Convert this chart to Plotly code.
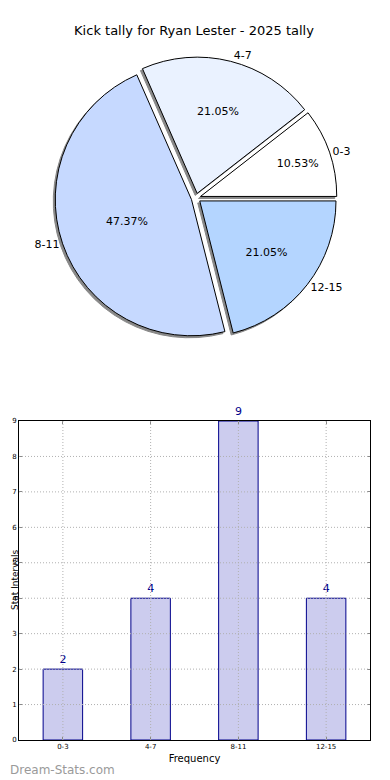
import plotly.graph_objects as go

# ---- data ----
categories = ["0-3", "4-7", "8-11", "12-15"]
counts = [2, 4, 9, 4]
pie_colors = ["#ffffff", "#eaf2ff", "#c6d9ff", "#b4d5ff"]
y_ticks = [0, 1, 2, 3, 4, 5, 6, 7, 8, 9]
title_text = "Kick tally for Ryan Lester - 2025 tally"

# page body has an 8px default margin; size the figure so it fits the window
OFF = 8
W, H = 390 - OFF, 780 - OFF
FONT = "DejaVu Sans"

def px_x(p):
    return (p - OFF) / W

def px_y(p):
    return 1 - (p - OFF) / H

pull = [0.035] * len(counts)
# first slice starts at 3 o'clock and runs counterclockwise
rotation = 90 - 360 * counts[0] / sum(counts)

# pie geometry (reference pixels)
pie_top, pie_bottom = 57, 339
main_dom_y = [px_y(pie_bottom), px_y(pie_top)]
shadow_dom_y = [px_y(pie_bottom + 2), px_y(pie_top + 2)]
main_dom_x = [px_x(8), px_x(384)]
shadow_dom_x = [px_x(8), px_x(380)]

fig = go.Figure()

common = dict(labels=categories, values=counts, sort=False,
              direction="counterclockwise", rotation=rotation, pull=pull,
              automargin=False, showlegend=False)

# shadow pie (behind)
fig.add_trace(go.Pie(
    **common,
    marker=dict(colors=["#888888"] * len(counts), line=dict(color="#888888", width=1)),
    textinfo="none", hoverinfo="skip",
    domain=dict(x=shadow_dom_x, y=shadow_dom_y),
))

# main pie
fig.add_trace(go.Pie(
    **common,
    marker=dict(colors=pie_colors, line=dict(color="#000000", width=1)),
    texttemplate="%{percent:.2%}", textposition="inside",
    insidetextorientation="horizontal",
    textfont=dict(family=FONT, size=11, color="#000000"),
    domain=dict(x=main_dom_x, y=main_dom_y),
))

# outside labels via an invisible overlay pie
fig.add_trace(go.Pie(
    **common,
    marker=dict(colors=["rgba(0,0,0,0)"] * len(counts), line=dict(width=0)),
    texttemplate="%{label}", textposition="outside",
    textfont=dict(family=FONT, size=11, color="#000000"),
    hoverinfo="skip",
    domain=dict(x=main_dom_x, y=main_dom_y),
))

# bar chart
fig.add_trace(go.Bar(
    x=categories, y=counts, width=0.45,
    marker=dict(color="#ccccee", line=dict(color="#00008b", width=1)),
    text=[str(c) for c in counts], textposition="outside",
    textfont=dict(family=FONT, size=11, color="#00008b"),
    cliponaxis=False, showlegend=False,
    xaxis="x", yaxis="y",
))

bar_x_dom = [px_x(19), px_x(370)]
bar_y_dom = [px_y(740), px_y(421)]

shapes = []
grid_style = dict(color="#b0b0b0", width=1, dash="1px,2px")
for t in y_ticks[1:-1]:
    shapes.append(dict(type="line", xref="x domain", yref="y", x0=0, x1=1, y0=t, y1=t,
                       line=grid_style, layer="above"))
for c in categories:
    shapes.append(dict(type="line", xref="x", yref="y domain", x0=c, x1=c, y0=0, y1=1,
                       line=grid_style, layer="above"))

fig.update_layout(
    width=W, height=H, autosize=False,
    margin=dict(l=0, r=0, t=0, b=0, pad=0, autoexpand=False),
    showlegend=False,
    paper_bgcolor="white", plot_bgcolor="white",
    font=dict(family=FONT, color="#000000"),
    title=dict(text=title_text, x=px_x(194), xanchor="center", y=px_y(30), yanchor="middle",
               font=dict(family=FONT, size=13, color="#000000")),
    xaxis=dict(domain=bar_x_dom, anchor="y", range=[-0.5, 3.5],
               showline=True, linecolor="#000000", linewidth=1, mirror="ticks",
               ticks="inside", ticklen=3, tickcolor="#888888",
               showgrid=False, tickfont=dict(family=FONT, size=7),
               title=dict(text="Frequency", font=dict(family=FONT, size=10), standoff=4),
               automargin=False, fixedrange=True),
    yaxis=dict(domain=bar_y_dom, anchor="x", range=[0, 9], tickvals=y_ticks,
               showline=True, linecolor="#000000", linewidth=1, mirror="ticks",
               ticks="inside", ticklen=3, tickcolor="#888888",
               showgrid=False, zeroline=False, tickfont=dict(family=FONT, size=7),
               automargin=False, fixedrange=True),
    shapes=shapes,
    annotations=[
        dict(text="Stat Intervals", xref="paper", yref="paper",
             x=0, y=px_y(580), xanchor="left", yanchor="middle", textangle=-90,
             showarrow=False, font=dict(family=FONT, size=9, color="#000000")),
        dict(text="Dream-Stats.com", xref="paper", yref="paper",
             x=0, y=px_y(770), xanchor="left", yanchor="middle", showarrow=False,
             font=dict(family=FONT, size=12, color="#9a9a9a")),
    ],
)

fig.write_html("out.html")
